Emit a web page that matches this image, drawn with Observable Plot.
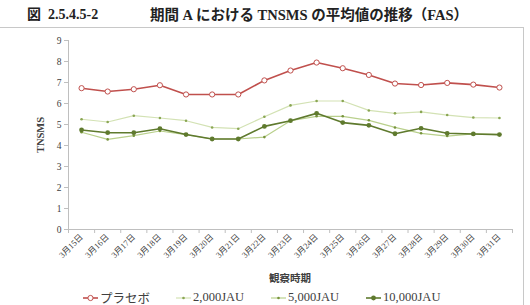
<!DOCTYPE html>
<html>
<head>
<meta charset="utf-8">
<script src="https://cdn.jsdelivr.net/npm/d3@7"></script>
<script src="https://cdn.jsdelivr.net/npm/@observablehq/plot@0.6"></script>
<style>
  html, body { margin: 0; padding: 0; background: #fff; }
  body { width: 530px; height: 305px; position: relative; overflow: hidden;
         font-family: "Liberation Serif", "Noto Sans CJK JP", serif; color: #404040; }
  .abs { position: absolute; white-space: nowrap; }
  #title1 { left: 27px; top: 3px; font-size: 14px; font-weight: bold; color: #222; }
  #title2 { left: 150px; top: 3px; font-size: 14.5px; font-weight: bold; color: #222; }
  #box { left: -2px; top: 27px; width: 525px; height: 290px; border-top: 1.5px solid #c8c8c8; border-right: 1.5px solid #c8c8c8; }
  #chart { left: 0; top: 29px; }
  #ytitle { left: 40px; top: 135px; font-size: 10.5px; font-weight: bold; transform: translate(-50%, -50%) rotate(-90deg); }
  #xtitle { left: 290px; top: 270px; font-size: 10.5px; font-weight: bold; transform: translateX(-50%); }
  #legend { left: 82px; top: 288px; font-size: 12.5px; display: flex; gap: 0; }
  .item { display: flex; align-items: center; }
  .item svg { margin-right: 1px; }
</style>
</head>
<body>
<div id="box" class="abs"></div>
<div id="title1" class="abs">図&nbsp; 2.5.4.5-2</div>
<div id="title2" class="abs">期間 A における TNSMS の平均値の推移（FAS）</div>
<div id="chart" class="abs"></div>
<div id="ytitle" class="abs">TNSMS</div>
<div id="xtitle" class="abs">観察時期</div>
<div id="legend" class="abs"></div>
<script>
// ---- data ----
const dates = ["3月15日","3月16日","3月17日","3月18日","3月19日","3月20日","3月21日","3月22日","3月23日","3月24日","3月25日","3月26日","3月27日","3月28日","3月29日","3月30日","3月31日"];
const placebo  = [6.73, 6.57, 6.68, 6.87, 6.43, 6.43, 6.43, 7.10, 7.57, 7.95, 7.68, 7.36, 6.95, 6.88, 6.98, 6.90, 6.76];
const jau2000  = [5.25, 5.12, 5.42, 5.31, 5.18, 4.86, 4.80, 5.37, 5.91, 6.12, 6.12, 5.67, 5.53, 5.60, 5.45, 5.33, 5.31];
const jau5000  = [4.63, 4.29, 4.47, 4.69, 4.52, 4.31, 4.31, 4.40, 5.18, 5.39, 5.39, 5.20, 4.86, 4.58, 4.45, 4.55, 4.52];
const jau10000 = [4.74, 4.61, 4.61, 4.80, 4.52, 4.31, 4.31, 4.91, 5.18, 5.53, 5.09, 4.96, 4.56, 4.82, 4.58, 4.55, 4.52];
const yTicks = [0,1,2,3,4,5,6,7,8,9];
const seriesNames = ["プラセボ", "2,000JAU", "5,000JAU", "10,000JAU"];

const toRows = (vals) => vals.map((v, i) => ({i, v}));

const styles = {
  "プラセボ":  {line: "#c0504d", w: 1.6, dotFill: "#fff", dotStroke: "#c0504d", r: 2.6},
  "2,000JAU":  {line: "#d3e2b4", w: 1.2, dotFill: "#8aa653", dotStroke: "none", r: 1.3},
  "5,000JAU":  {line: "#b9d08c", w: 1.2, dotFill: "#77933c", dotStroke: "none", r: 1.3},
  "10,000JAU": {line: "#5f7a2e", w: 1.6, dotFill: "#5f7a2e", dotStroke: "none", r: 2.4}
};
const seriesData = [placebo, jau2000, jau5000, jau10000];

const boundaries = d3.range(-0.5, dates.length, 1);
const axisColor = "#bfbfbf";

const marks = [
  Plot.axisY({ticks: yTicks, tickSize: 4, tickPadding: 3, stroke: axisColor, fill: "#404040", fontSize: 9.5, label: null}),
  Plot.axisX({ticks: boundaries, tickSize: 4, tickFormat: () => "", stroke: axisColor, label: null}),
  Plot.axisX({ticks: d3.range(dates.length), tickSize: 0, tickPadding: 6, tickRotate: -45, tickFormat: i => dates[i], fill: "#404040", fontSize: 8.5, label: null}),
  Plot.ruleX([-0.5], {stroke: axisColor}),
  Plot.ruleY([0], {stroke: axisColor})
];
// draw lower-emphasis first
[1, 2, 3, 0].forEach(k => {
  const name = seriesNames[k];
  const s = styles[name];
  const rows = toRows(seriesData[k]);
  marks.push(Plot.line(rows, {x: "i", y: "v", stroke: s.line, strokeWidth: s.w}));
  marks.push(Plot.dot(rows, {x: "i", y: "v", r: s.r, fill: s.dotFill, stroke: s.dotStroke, strokeWidth: 1}));
});

const chart = Plot.plot({
  width: 530,
  height: 255,
  marginTop: 11,
  marginBottom: 55,
  marginLeft: 68,
  marginRight: 18,
  style: {fontFamily: '"Liberation Serif", "Noto Sans CJK JP", serif', background: "transparent", overflow: "visible"},
  x: {type: "linear", domain: [-0.5, dates.length - 0.5]},
  y: {domain: [0, 9]},
  marks
});
document.getElementById("chart").appendChild(chart);

// legend
const legend = d3.select("#legend");
const gaps = [25, 26, 26, 0];
seriesNames.forEach((name, k) => {
  const s = styles[name];
  const item = legend.append("div").attr("class", "item").style("margin-right", gaps[k] + "px");
  const sv = item.append("svg").attr("width", 17).attr("height", 10);
  sv.append("line").attr("x1", 1).attr("x2", 16).attr("y1", 5).attr("y2", 5).attr("stroke", s.line).attr("stroke-width", s.w);
  sv.append("circle").attr("cx", 8.5).attr("cy", 5).attr("r", s.r).attr("fill", s.dotFill).attr("stroke", s.dotStroke);
  item.append("span").text(name);
});
</script>
</body>
</html>
